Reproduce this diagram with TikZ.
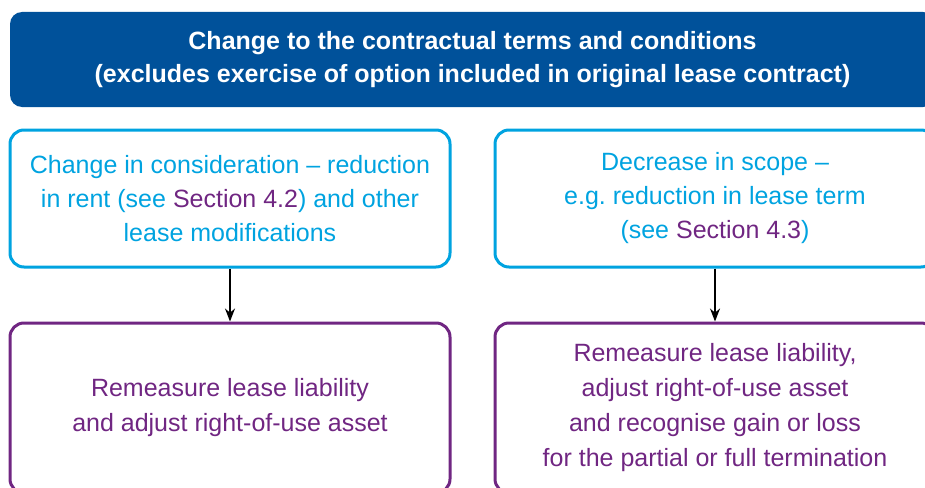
\documentclass[tikz,border=0pt]{standalone}
\usepackage{fontspec}
\setmainfont{Liberation Sans}
\usetikzlibrary{positioning, arrows.meta}
\definecolor{kblue}{RGB}{0,81,154}
\definecolor{kcyan}{RGB}{0,163,224}
\definecolor{kpurple}{RGB}{112,38,130}
\newcommand{\sect}[1]{\textcolor{kpurple}{#1}}
\tikzset{
    x=1pt, y=-1pt,
    node distance = 53pt,
    header/.style={fill=kblue, text=white, rounded corners=12pt,
        minimum width=925pt, minimum height=95pt, align=center,
        font=\fontsize{25}{33}\selectfont\bfseries},
    casebox/.style={draw=kcyan, line width=3pt, rounded corners=14pt,
        minimum width=440pt, minimum height=137pt, align=center,
        text=kcyan, font=\fontsize{25}{34}\selectfont},
    resultbox/.style={draw=kpurple, line width=3pt, rounded corners=14pt,
        minimum width=440pt, minimum height=170pt, align=center,
        text=kpurple, font=\fontsize{25}{35}\selectfont},
    flow/.style={-{Stealth[length=13pt, width=10pt]}, line width=1.5pt}
}

\begin{document}
\begin{tikzpicture}
    % page frame, the boxes run past it
    \path[use as bounding box, clip] (0,0) rectangle (925,487);
        \node[header] (top) at (472.5,59.5)
            {Change to the contractual terms and conditions\\(excludes exercise of option included in original lease contract)};
        \node[casebox] (rent) at (230,198.5)
            {Change in consideration -- reduction\\in rent (see \sect{Section 4.2}) and other\\lease modifications};
        \node[casebox] (scope) at (715,198.5)
            {Decrease in scope --\\e.g.\ reduction in lease term\\(see \sect{Section 4.3})};
        \node[resultbox, below=of rent] (remeasure)
            {Remeasure lease liability\\and adjust right-of-use asset};
        \node[resultbox, below=of scope] (terminate)
            {Remeasure lease liability,\\adjust right-of-use asset\\and recognise gain or loss\\for the partial or full termination};
        \draw[flow] (rent) -- (remeasure);
        \draw[flow] (scope) -- (terminate);
\end{tikzpicture}
\end{document}
